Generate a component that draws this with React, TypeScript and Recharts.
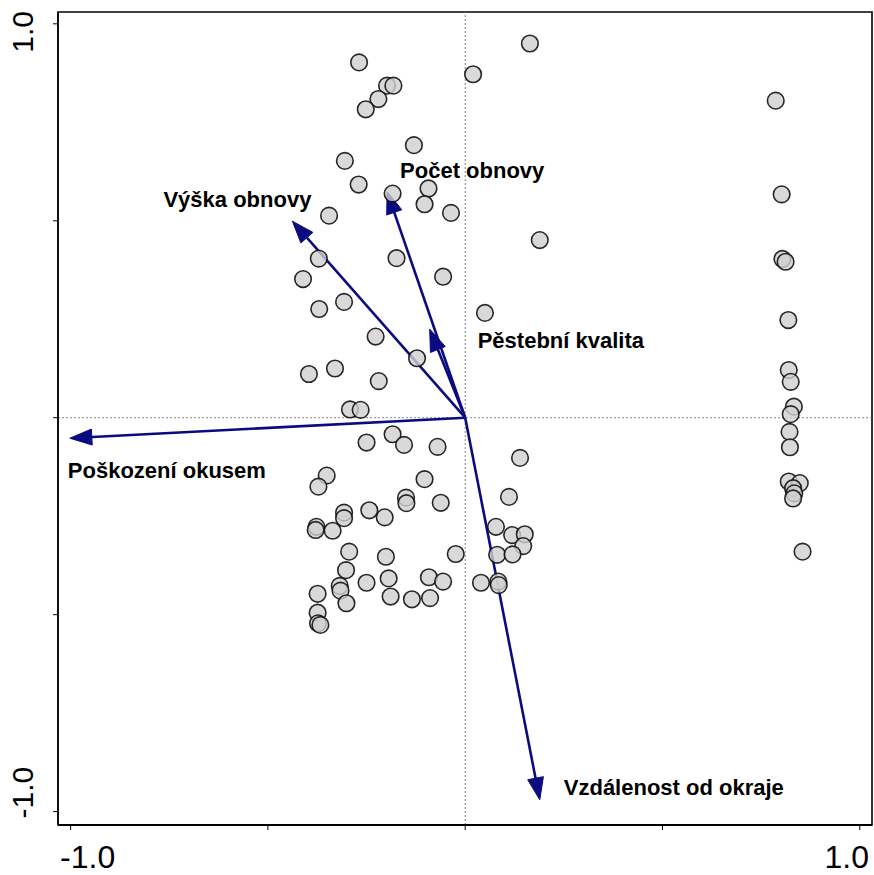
import { ScatterChart, Scatter, XAxis, YAxis, ReferenceLine, ReferenceArea } from 'recharts';

// site scores (axis 1, axis 2)
const siteX = [
  0.164, -0.269, 0.02, -0.198, -0.182, -0.22, -0.252, -0.13, -0.305, -0.27,
  -0.184, -0.093, -0.103, -0.036, -0.345, 0.189, -0.371, -0.174, -0.411, -0.056,
  -0.307, -0.37, 0.05, -0.227, -0.122, -0.33, -0.396, -0.219, -0.292, -0.265,
  -0.184, -0.25, -0.155, -0.07, 0.139, -0.351, -0.372, -0.103, -0.15, -0.149,
  -0.062, 0.111, -0.307, -0.307, -0.243, -0.204, -0.377, -0.379, -0.336, 0.078,
  0.119, 0.151, 0.147, -0.294, -0.201, -0.024, 0.081, 0.12, -0.302, -0.318,
  -0.316, -0.25, -0.194, -0.092, -0.056, 0.04, 0.084, 0.085, -0.374, -0.301,
  -0.189, -0.135, -0.089, -0.374, -0.373, -0.367, 0.787, 0.802, 0.804, 0.812,
  0.819, 0.82, 0.825, 0.833, 0.825, 0.822, 0.823, 0.82, 0.848, 0.831,
  0.834, 0.831, 0.855,
];
const siteY = [
  0.95, 0.902, 0.872, 0.843, 0.843, 0.809, 0.783, 0.692, 0.652, 0.592,
  0.569, 0.582, 0.542, 0.52, 0.513, 0.451, 0.404, 0.405, 0.352, 0.358,
  0.294, 0.276, 0.266, 0.206, 0.151, 0.125, 0.111, 0.093, 0.021, 0.02,
  -0.042, -0.063, -0.069, -0.074, -0.102, -0.147, -0.175, -0.156, -0.203, -0.217,
  -0.216, -0.201, -0.241, -0.255, -0.235, -0.253, -0.277, -0.285, -0.287, -0.277,
  -0.298, -0.296, -0.326, -0.34, -0.353, -0.346, -0.348, -0.347, -0.387, -0.427,
  -0.439, -0.419, -0.408, -0.405, -0.416, -0.419, -0.416, -0.425, -0.447, -0.471,
  -0.454, -0.461, -0.458, -0.495, -0.522, -0.526, 0.805, 0.567, 0.403, 0.396,
  0.248, 0.121, 0.091, 0.028, 0.009, -0.036, -0.075, -0.162, -0.166, -0.179,
  -0.192, -0.205, -0.34,
];

// environmental variables (arrow tips)
const envNames = ['Poškození okusem', 'Výška obnovy', 'Počet obnovy', 'Pěstební kvalita', 'Vzdálenost od okraje'];
const envX = [-1.002, -0.438, -0.198, -0.09, 0.189];
const envY = [-0.052, 0.499, 0.574, 0.225, -0.97];

const axisTicks = [-1, -0.5, 0, 0.5, 1];
const tickText: Record<string, string> = { '-1': '-1.0', '1': '1.0' };

const sites = siteX.map((x, i) => ({ x, y: siteY[i] }));

const FONT = '"Liberation Sans", Arial, Helvetica, sans-serif';
const NAVY = '#0b0b80';
// label placement relative to arrow tip: dx, dy, anchor
const LABEL_POS: [number, number, 'start' | 'end'][] = [
  [-2, 40, 'start'],
  [19, -14, 'end'],
  [13, -14, 'start'],
  [48, 19, 'start'],
  [24, -5, 'start'],
];

const arrowShape = (i: number) => (props: any) => {
  const { x1, y1, x2, y2 } = props;
  const dx = x2 - x1;
  const dy = y2 - y1;
  const len = Math.sqrt(dx * dx + dy * dy) || 1;
  const ux = dx / len;
  const uy = dy / len;
  const head = 22;
  const half = 8;
  const bx = x2 - ux * head;
  const by = y2 - uy * head;
  const pts = [
    `${x2},${y2}`,
    `${bx - uy * half},${by + ux * half}`,
    `${bx + uy * half},${by - ux * half}`,
  ].join(' ');
  const [ox, oy, anchor] = LABEL_POS[i];
  return (
    <g>
      <line x1={x1} y1={y1} x2={bx + ux * 4} y2={by + uy * 4} stroke={NAVY} strokeWidth={2.6} />
      <polygon points={pts} fill={NAVY} stroke={NAVY} strokeWidth={1} />
      <text
        x={x2 + ox}
        y={y2 + oy}
        textAnchor={anchor}
        fontFamily={FONT}
        fontWeight="bold"
        fontSize={22}
        fill="#000"
      >
        {envNames[i]}
      </text>
    </g>
  );
};

const XTick = (props: any) => {
  const { x, payload } = props;
  const label = tickText[String(payload.value)];
  if (!label) return null;
  const shift = payload.value < 0 ? 17 : -13;
  return (
    <text x={x + shift} y={868} textAnchor="middle" fontFamily={FONT} fontSize={32} fill="#000">
      {label}
    </text>
  );
};

const YTick = (props: any) => {
  const { y, payload } = props;
  const label = tickText[String(payload.value)];
  if (!label) return null;
  const cy = y + (payload.value < 0 ? -19 : 8);
  return (
    <text
      x={33}
      y={cy}
      transform={`rotate(-90 33 ${cy})`}
      textAnchor="middle"
      fontFamily={FONT}
      fontSize={30}
      fill="#000"
    >
      {label}
    </text>
  );
};

const siteShape = (props: any) => (
  <circle
    cx={props.cx}
    cy={props.cy}
    r={8.3}
    fill="#cfcfcf"
    fillOpacity={0.8}
    stroke="#111"
    strokeOpacity={0.9}
    strokeWidth={1.6}
  />
);

export default function App() {
  return (
    <div style={{ position: 'absolute', left: 0, top: 0, background: '#fff' }}>
      <ScatterChart width={874} height={875} margin={{ top: 12, right: 2, bottom: 0, left: 0 }}>
        <XAxis
          type="number"
          dataKey="x"
          domain={[-1.032, 1.031]}
          ticks={axisTicks}
          allowDataOverflow
          height={50}
          axisLine={{ stroke: '#000', strokeWidth: 2 }}
          tickLine={{ stroke: '#000', strokeWidth: 1 }}
          tickSize={5}
          tick={<XTick />}
        />
        <YAxis
          type="number"
          dataKey="y"
          domain={[-1.034, 1.03]}
          ticks={axisTicks}
          allowDataOverflow
          width={58}
          axisLine={{ stroke: '#000', strokeWidth: 1.4 }}
          tickLine={{ stroke: '#000', strokeWidth: 1 }}
          tickSize={5}
          tick={<YTick />}
        />
        <ReferenceArea
          x1={-1.032}
          x2={1.031}
          y1={-1.034}
          y2={1.03}
          fill="none"
          fillOpacity={0}
          stroke="#000"
          strokeWidth={1.6}
          ifOverflow="visible"
        />
        <ReferenceLine x={0} stroke="#777" strokeWidth={0.9} strokeDasharray="2 2" />
        <ReferenceLine y={0} stroke="#777" strokeWidth={0.9} strokeDasharray="2 2" />
        <Scatter data={sites} shape={siteShape} isAnimationActive={false} />
        {envNames.map((name, i) => (
          <ReferenceLine
            key={name}
            segment={[{ x: 0, y: 0 }, { x: envX[i], y: envY[i] }]}
            shape={arrowShape(i)}
            ifOverflow="visible"
          />
        ))}
      </ScatterChart>
    </div>
  );
}
